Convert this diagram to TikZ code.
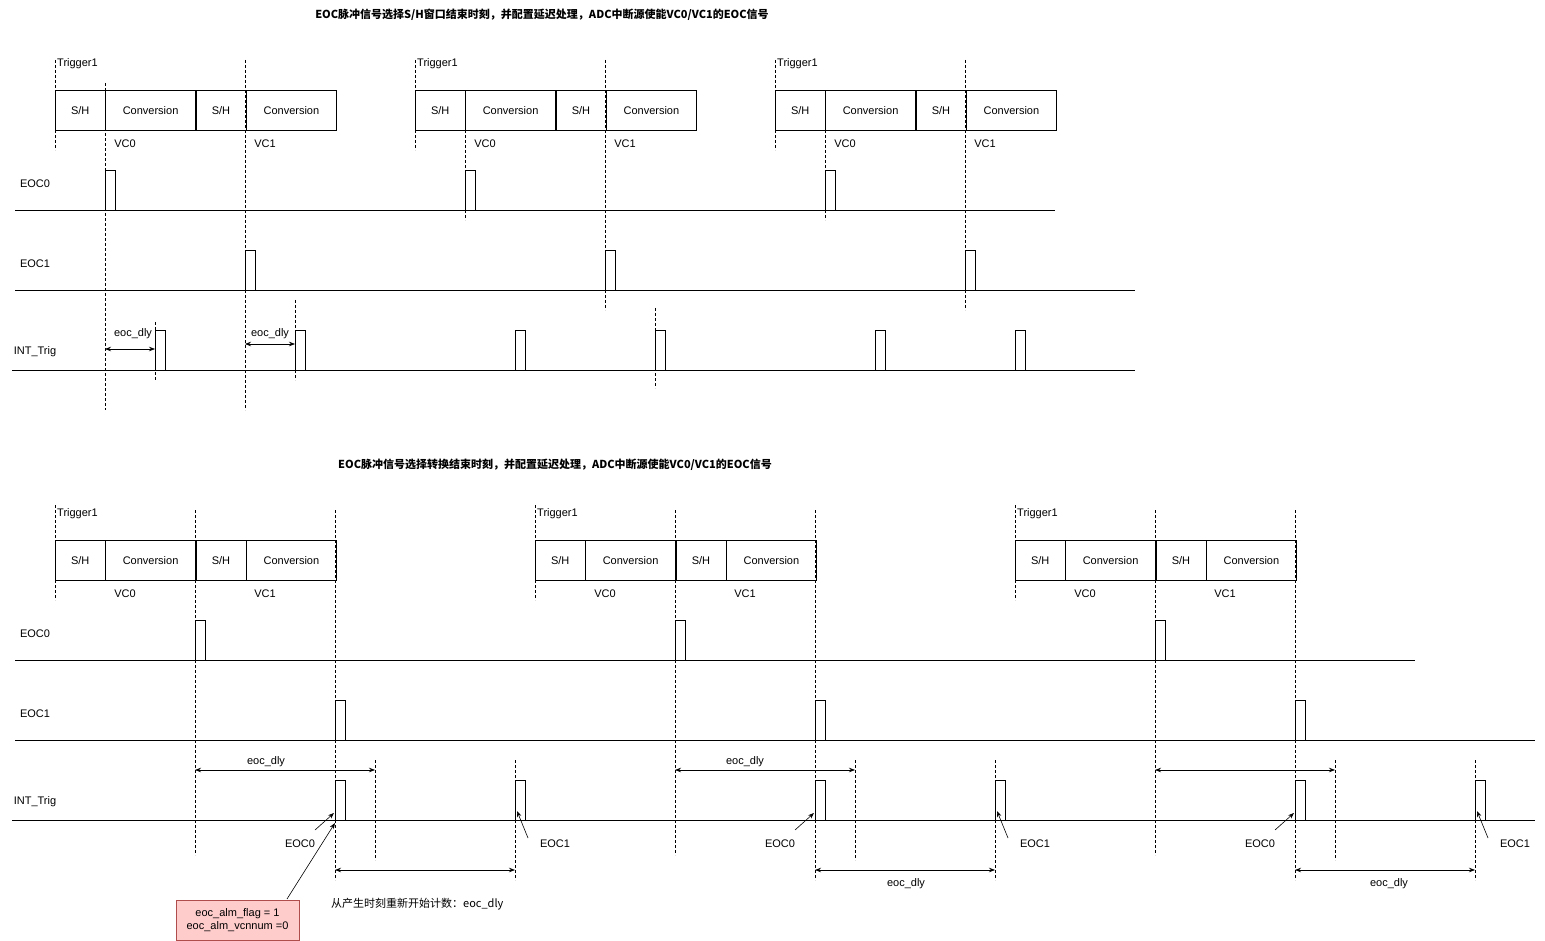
\documentclass[tikz,border=0pt]{standalone}
\usepackage{fontspec}
\setmainfont{Liberation Sans}
\newfontfamily\cjk{Noto Sans CJK SC}
\usetikzlibrary{positioning,arrows.meta}
\tikzset{
  blk/.style={draw,minimum height=40pt,inner sep=0pt,font=\fontsize{11}{13}\selectfont},
  lbl/.style={font=\fontsize{11}{13}\selectfont,inner sep=1pt},
  guide/.style={densely dashed,line width=0.5pt},
  sig/.style={line width=0.7pt},
  dly/.style={{Stealth[length=6pt]}-{Stealth[length=6pt]},line width=0.7pt},
  ptr/.style={-{Stealth[length=6pt]},line width=0.6pt},
  ttl/.style={font=\cjk\bfseries\fontsize{11}{13}\selectfont}
}
\begin{document}
\begin{tikzpicture}[x=1pt,y=-1pt]
  \useasboundingbox (0,0) rectangle (1545,941);
  % ---------- top ----------
  \node[ttl] (t1) at (542,15) {EOC脉冲信号选择S/H窗口结束时刻，并配置延迟处理，ADC中断源使能VC0/VC1的EOC信号};
  \foreach \g/\x in {a/55,b/415,c/775}{
    \node[blk,minimum width=50pt,anchor=north west] (sh0\g) at (\x,90) {S/H};
    \node[blk,minimum width=90pt,right=0pt of sh0\g] (cv0\g) {Conversion};
    \node[blk,minimum width=50pt,right=0pt of cv0\g] (sh1\g) {S/H};
    \node[blk,minimum width=90pt,right=0pt of sh1\g] (cv1\g) {Conversion};
    \node[lbl,anchor=west] (tr\g) at (\x+1,64) {Trigger1};
    \node[lbl] (vc0\g) at (\x+70,144) {VC0};
    \node[lbl] (vc1\g) at (\x+210,144) {VC1};
    \draw[guide] (\x,60) -- (\x,150);
    % EOC0 / EOC1 pulses
    \draw[sig] (\x+50,210) |- (\x+60,170) -- (\x+60,210);
    \draw[sig] (\x+190,290) |- (\x+200,250) -- (\x+200,290);
  }
  \node[lbl] (e0) at (35,184) {EOC0};
  \node[lbl] (e1) at (35,264) {EOC1};
  \node[lbl] (it) at (35,352) {INT\_Trig};
  \draw[sig] (15,210) -- (1055,210);
  \draw[sig] (15,290) -- (1135,290);
  \draw[sig] (12,370) -- (1135,370);
  \foreach \x in {155,295,515,655,875,1015}
    \draw[sig] (\x,370) |- (\x+10,330) -- (\x+10,370);
  \draw[guide] (105,83) -- (105,410);
  \draw[guide] (245,60) -- (245,410);
  \draw[guide] (465,130) -- (465,220);
  \draw[guide] (605,60) -- (605,310);
  \draw[guide] (825,130) -- (825,220);
  \draw[guide] (965,60) -- (965,310);
  \draw[guide] (155,322) -- (155,380);
  \draw[guide] (295,300) -- (295,380);
  \draw[guide] (655,308) -- (655,388);
  \coordinate (d1a) at (105,349); \coordinate (d1b) at (155,349);
  \coordinate (d2a) at (245,344); \coordinate (d2b) at (295,344);
  \draw[dly] (d1a) -- (d1b);
  \draw[dly] (d2a) -- (d2b);
  \node[lbl] (l1) at (133,334) {eoc\_dly};
  \node[lbl] (l2) at (270,334) {eoc\_dly};
  % ---------- bottom ----------
  \node[ttl] (t2) at (555,465) {EOC脉冲信号选择转换结束时刻，并配置延迟处理，ADC中断源使能VC0/VC1的EOC信号};
  \foreach \g/\x in {a/55,b/535,c/1015}{
    \node[blk,minimum width=50pt,anchor=north west] (bsh0\g) at (\x,540) {S/H};
    \node[blk,minimum width=90pt,right=0pt of bsh0\g] (bcv0\g) {Conversion};
    \node[blk,minimum width=50pt,right=0pt of bcv0\g] (bsh1\g) {S/H};
    \node[blk,minimum width=90pt,right=0pt of bsh1\g] (bcv1\g) {Conversion};
    \node[lbl,anchor=west] (btr\g) at (\x+1,514) {Trigger1};
    \node[lbl] (bvc0\g) at (\x+70,594) {VC0};
    \node[lbl] (bvc1\g) at (\x+210,594) {VC1};
    \draw[guide] (\x,505) -- (\x,600);
    \draw[guide] (\x+140,510) -- (\x+140,855);
    \draw[guide] (\x+280,510) -- (\x+280,880);
    \draw[guide] (\x+320,760) -- (\x+320,860);
    \draw[guide] (\x+460,760) -- (\x+460,880);
    \draw[sig] (\x+140,660) |- (\x+150,620) -- (\x+150,660);
    \draw[sig] (\x+280,740) |- (\x+290,700) -- (\x+290,740);
    \draw[sig] (\x+280,820) |- (\x+290,780) -- (\x+290,820);
    \draw[sig] (\x+460,820) |- (\x+470,780) -- (\x+470,820);
    \draw[dly] (\x+140,770) -- (\x+320,770);
    \draw[dly] (\x+280,870) -- (\x+460,870);
    \node[lbl] (pe0\g) at (\x+245,844) {EOC0};
    \node[lbl] (pe1\g) at (\x+500,844) {EOC1};
    \draw[ptr] (\x+260,830) -- (\x+279,813);
    \draw[ptr] (\x+473,838) -- (\x+462,811);
  }
  \node[lbl] (be0) at (35,634) {EOC0};
  \node[lbl] (be1) at (35,714) {EOC1};
  \node[lbl] (bit) at (35,802) {INT\_Trig};
  \draw[sig] (15,660) -- (1415,660);
  \draw[sig] (15,740) -- (1535,740);
  \draw[sig] (12,820) -- (1535,820);
  \node[lbl] (bl1) at (266,762) {eoc\_dly};
  \node[lbl] (bl2) at (745,762) {eoc\_dly};
  \node[lbl] (bl3) at (906,884) {eoc\_dly};
  \node[lbl] (bl4) at (1389,884) {eoc\_dly};
  \node[lbl,anchor=west,font=\cjk\fontsize{11}{13}\selectfont] (rst) at (330,904) {从产生时刻重新开始计数：eoc\_dly};
  \node[draw=red!55!black!70,fill=red!20,line width=0.6pt,minimum width=123pt,minimum height=40pt,
        align=center,font=\fontsize{11}{13}\selectfont,inner sep=1pt] (flag) at (237.5,920)
        {eoc\_alm\_flag = 1\\eoc\_alm\_vcnnum =0};
  \draw[ptr] (287,899) -- (335,823);
\end{tikzpicture}
\end{document}
